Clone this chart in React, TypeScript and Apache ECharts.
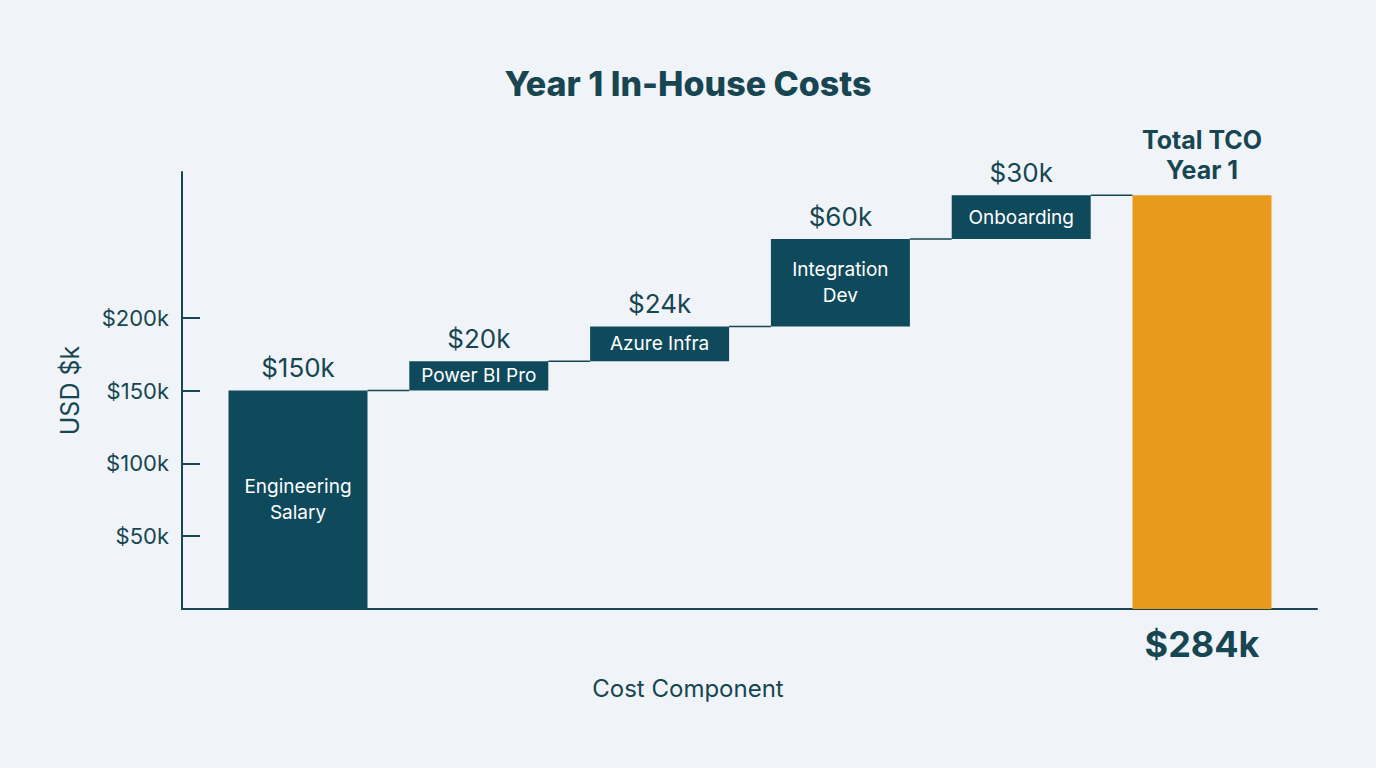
import React, { useEffect, useRef } from "react";
import * as echarts from "echarts";

const categories = ["Engineering\nSalary", "Power BI Pro", "Azure Infra", "Integration\nDev", "Onboarding", "Total TCO\nYear 1"];
const deltas = [150, 20, 24, 60, 30];
const yTickValues = [50, 100, 150, 200];

const TEAL = "#0F4A5C";
const TEXT = "#174652";
const ORANGE = "#E89B1B";
const FONT = "Inter, Lato, sans-serif";

export default function App() {
  const ref = useRef<HTMLDivElement>(null);
  useEffect(() => {
    document.body.style.margin = "0";
    if (!ref.current) return;
    const chart = echarts.init(ref.current, null, { renderer: "svg" });

    const total = deltas.reduce((a, b) => a + b, 0);
    const bases: number[] = [];
    const tops: number[] = [];
    let run = 0;
    deltas.forEach((d) => {
      bases.push(run);
      run += d;
      tops.push(run);
    });
    const n = categories.length;
    // [index, base, top]
    const barData = deltas.map((d, i) => [i, bases[i], tops[i]]).concat([[n - 1, 0, total]]);
    const BW = 139;

    chart.setOption({
      animation: false,
      backgroundColor: "#F0F4F8",
      textStyle: { fontFamily: FONT },
      title: {
        text: "Year 1 In-House Costs",
        left: "center",
        top: 61,
        textStyle: { fontSize: 34, fontWeight: 800, color: TEXT, fontFamily: FONT },
      },
      grid: { left: 182, right: 59, top: 172, bottom: 159, containLabel: false },
      xAxis: {
        type: "value",
        min: -0.6416,
        max: 5.636,
        axisLine: { show: true, onZero: false, lineStyle: { color: TEXT, width: 2 } },
        axisTick: { show: false },
        axisLabel: { show: false },
        splitLine: { show: false },
        name: "Cost Component",
        nameLocation: "middle",
        nameGap: 67,
        nameTextStyle: { fontSize: 24, color: TEXT, padding: [0, 123, 0, 0], fontFamily: FONT },
      },
      yAxis: {
        type: "value",
        min: 0,
        max: 300,
        interval: 50,
        axisLine: { show: true, onZero: false, lineStyle: { color: TEXT, width: 2 } },
        axisTick: { show: true, inside: true, length: 18, customValues: yTickValues, lineStyle: { color: TEXT, width: 2 } },
        axisLabel: {
          customValues: yTickValues,
          formatter: (v: number) => `$${v}k`,
          fontSize: 22,
          color: TEXT,
          margin: 13,
          fontFamily: FONT,
        },
        splitLine: { show: false },
        name: "USD $k",
        nameLocation: "middle",
        nameGap: 100,
        nameTextStyle: { fontSize: 25, color: TEXT, fontFamily: FONT },
      },
      series: [
        {
          type: "custom",
          data: barData,
          z: 2,
          renderItem: (params: any, api: any) => {
            const i = api.value(0);
            const b = api.value(1);
            const t = api.value(2);
            const p0 = api.coord([i, b]);
            const p1 = api.coord([i, t]);
            const isTotal = params.dataIndex === n - 1;
            return {
              type: "rect",
              shape: { x: p0[0] - BW / 2, y: p1[1], width: BW, height: p0[1] - p1[1] },
              style: { fill: isTotal ? ORANGE : TEAL },
              textContent: isTotal
                ? undefined
                : {
                    style: {
                      text: categories[params.dataIndex],
                      fill: "#FFFFFF",
                      fontSize: 19,
                      lineHeight: 26,
                      fontFamily: FONT,
                      align: "center",
                    },
                  },
              textConfig: { position: "inside" },
            };
          },
        },
        {
          type: "custom",
          data: tops.map((t, i) => [i, t]),
          z: 1,
          renderItem: (params: any, api: any) => {
            const i = api.value(0);
            const v = api.value(1);
            const p1 = api.coord([i, v]);
            const p2 = api.coord([i + 1, v]);
            return {
              type: "line",
              shape: { x1: p1[0] + BW / 2, y1: p1[1], x2: p2[0] - BW / 2, y2: p2[1] },
              style: { stroke: TEXT, lineWidth: 1.5 },
            };
          },
        },
        {
          type: "scatter",
          symbolSize: 0,
          itemStyle: { opacity: 1 },
          data: tops.map((t, i) => [i, t]).concat([[n - 1, total]]),
          label: {
            show: true,
            position: "top",
            distance: 10,
            fontFamily: FONT,
            color: TEXT,
            formatter: (p: any) =>
              p.dataIndex < deltas.length ? `$${deltas[p.dataIndex]}k` : `{b|${categories[n - 1]}}`,
            fontSize: 26,
            rich: {
              b: { fontSize: 25, fontWeight: "bold", lineHeight: 30, color: TEXT, fontFamily: FONT, align: "center" },
            },
          },
        },
        {
          type: "scatter",
          symbolSize: 0,
          itemStyle: { opacity: 1 },
          data: [[n - 1, 0]],
          label: {
            show: true,
            position: "bottom",
            distance: 17,
            fontSize: 36,
            fontWeight: "bold",
            color: TEXT,
            fontFamily: FONT,
            formatter: () => `$${total}k`,
          },
        },
      ],
    });
    return () => chart.dispose();
  }, []);
  return <div ref={ref} style={{ width: 1376, height: 768 }} />;
}
